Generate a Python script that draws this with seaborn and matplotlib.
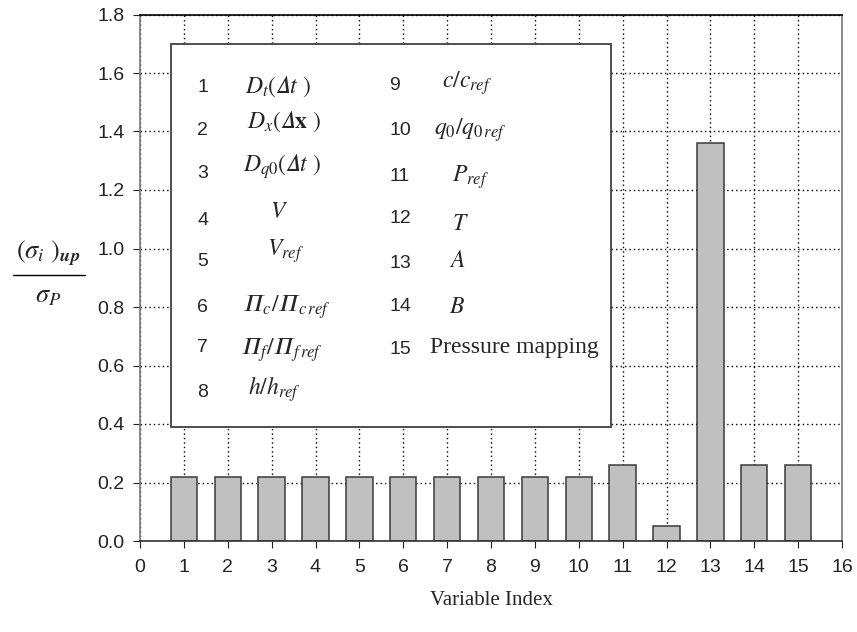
import matplotlib
matplotlib.use("Agg")
import matplotlib.pyplot as plt
import matplotlib.patches as mpatches
import matplotlib.ticker as mticker
import pandas as pd
import seaborn as sns

# data
indices = [1, 2, 3, 4, 5, 6, 7, 8, 9, 10, 11, 12, 13, 14, 15]
ratios = [0.22, 0.22, 0.22, 0.22, 0.22, 0.22, 0.22, 0.22, 0.22, 0.22,
          0.26, 0.05, 1.36, 0.26, 0.26]

legend_nums_1 = ["1", "2", "3", "4", "5", "6", "7", "8"]
legend_labels_1 = [
    r"$D_t(𝛥t\ )$",
    r"$D_x(𝛥\mathbf{x}\ )$",
    r"$D_{q0}(𝛥t\ )$",
    r"$V$",
    r"$V_{ref}$",
    r"$𝛱_c/𝛱_{c\,ref}$",
    r"$𝛱_f/𝛱_{f\,ref}$",
    r"$h/h_{ref}$",
]
legend_nums_2 = ["9", "10", "11", "12", "13", "14", "15"]
legend_labels_2 = [
    r"$c/c_{ref}$",
    r"$q_0/q_{0\,ref}$",
    r"$P_{ref}$",
    r"$T$",
    r"$A$",
    r"$B$",
    "Pressure mapping",
]

sns.set_style("ticks")
plt.rcParams.update({
    "font.family": ["Liberation Sans", "DejaVu Sans"],
    "mathtext.fontset": "stix",
    "xtick.labelsize": 14,
    "ytick.labelsize": 14,
    "xtick.direction": "out",
    "ytick.direction": "out",
    "xtick.major.size": 5,
    "ytick.major.size": 5,
    "xtick.major.pad": 8,
    "ytick.major.pad": 6,
    "xtick.color": "#222222",
    "ytick.color": "#222222",
})

df = pd.DataFrame({"index": indices, "ratio": ratios})

fig = plt.figure(figsize=(8.57, 6.32), dpi=100)
ax = fig.add_axes([140 / 857, 91 / 632, 702 / 857, 526.5 / 632])

sns.barplot(data=df, x="index", y="ratio", native_scale=True, width=0.6,
            color="#c0c0c0", edgecolor="#3a3a3a", linewidth=1.1,
            saturation=1, ax=ax, zorder=2)

ax.set_xlim(0, 16)
ax.set_ylim(0, 1.8)
ax.set_xticks(range(0, 17))
ax.set_yticks([i * 0.2 for i in range(10)])
ax.yaxis.set_major_formatter(mticker.FormatStrFormatter("%.1f"))
ax.grid(True, color="black", linestyle=(0, (1, 2.2)), linewidth=1.0)
ax.set_axisbelow(True)

for side in ["left", "right"]:
    ax.spines[side].set_color("#777777")
ax.spines["top"].set_color("black")
ax.spines["bottom"].set_color("#333333")
for s in ax.spines.values():
    s.set_linewidth(1.2)

ax.set_xlabel("Variable Index", family="Liberation Serif", fontsize=15, labelpad=11)
ax.set_ylabel("")

# legend box drawn as a table inside the axes
box = mpatches.Rectangle((0.70, 0.39), 10.03, 1.31, facecolor="white",
                         edgecolor="#404040", linewidth=1.3, zorder=4)
ax.add_patch(box)

num1_y = [1.552, 1.402, 1.258, 1.097, 0.954, 0.800, 0.660, 0.509]
lab1_y = [1.532, 1.412, 1.262, 1.104, 0.974, 0.783, 0.636, 0.499]
lab1_x = [2.39, 2.44, 2.35, 2.96, 2.89, 2.32, 2.28, 2.46]
for num, lab, ny, ly, lx in zip(legend_nums_1, legend_labels_1, num1_y, lab1_y, lab1_x):
    ax.text(1.30, ny, num, ha="left", va="center", fontsize=14, zorder=5)
    ax.text(lx, ly, lab, ha="left", va="baseline", fontsize=17, zorder=5)

num2_y = [1.556, 1.402, 1.245, 1.101, 0.950, 0.803, 0.653]
lab2_y = [1.549, 1.388, 1.227, 1.063, 0.937, 0.779, 0.643]
lab2_x = [6.89, 6.71, 7.10, 7.12, 7.05, 7.05, 6.60]
for i, (num, lab) in enumerate(zip(legend_nums_2, legend_labels_2)):
    ax.text(5.68, num2_y[i], num, ha="left", va="center", fontsize=14, zorder=5)
    if i < 6:
        ax.text(lab2_x[i], lab2_y[i], lab, ha="left", va="baseline",
                fontsize=17, zorder=5)
    else:
        ax.text(lab2_x[i], lab2_y[i], lab, ha="left", va="baseline",
                fontsize=17, family="Liberation Serif", zorder=5)

# y label as a stacked fraction
fig.text(48 / 857, 1 - 254 / 632, r"$(\sigma_i\ )_{\mathbfit{up}}$", ha="center",
         va="center", fontsize=19)
fig.add_artist(plt.Line2D([13 / 857, 85 / 857], [1 - 275 / 632, 1 - 275 / 632],
                          color="black", linewidth=1.0))
fig.text(48 / 857, 1 - 296 / 632, r"$\sigma_P$", ha="center", va="center",
         fontsize=19)

fig.savefig("out.png", dpi=100)
